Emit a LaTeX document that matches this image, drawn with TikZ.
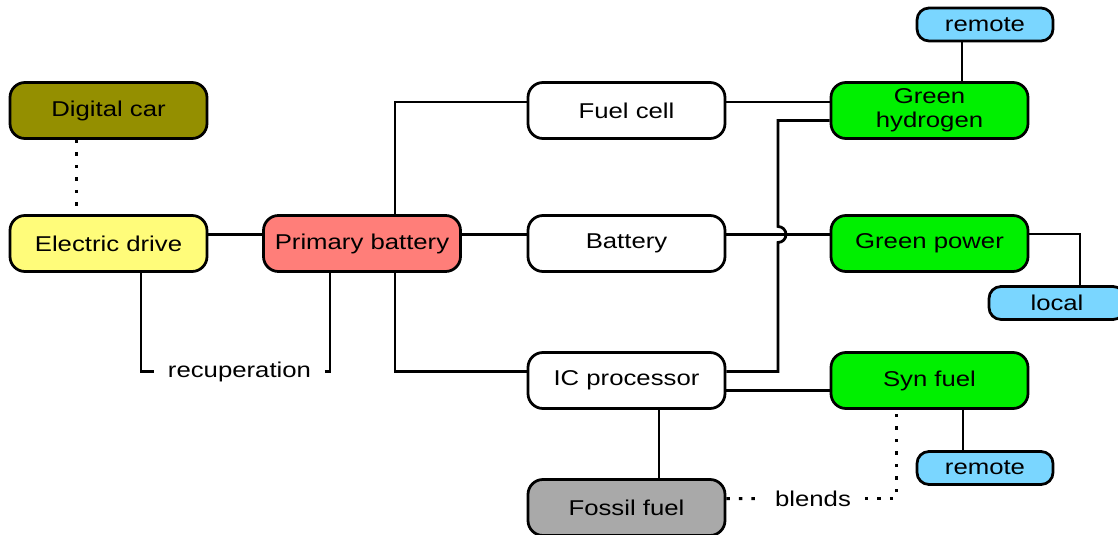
\documentclass[tikz,border=0pt]{standalone}
\usepackage{fontspec}
\setmainfont{Liberation Sans}[FakeStretch=1.2]

\definecolor{olivebox}{RGB}{148,143,0}
\definecolor{driveyellow}{RGB}{255,252,122}
\definecolor{batsalmon}{RGB}{255,126,121}
\definecolor{greenbox}{RGB}{0,240,0}
\definecolor{fossilgrey}{RGB}{169,169,169}
\definecolor{tagblue}{RGB}{122,214,255}

\begin{document}
\begin{tikzpicture}[
			x=0.2mm,y=-0.2mm,
			font=\fontsize{12.2}{13.5}\selectfont,
			line width=0.55mm,
			block/.style={rectangle,draw,rounded corners=3mm,minimum width=39.4mm,
				minimum height=11.2mm,inner sep=0pt,align=center},
			tagbox/.style={rectangle,draw,rounded corners=2.4mm,minimum width=27.2mm,
				minimum height=6.6mm,inner sep=0pt,fill=tagblue},
			edgetext/.style={fill=white,inner xsep=2.5mm,inner ysep=1pt},
			link/.style={draw,line width=0.55mm},
			dotlink/.style={draw,line width=0.6mm,dash pattern=on 0.7mm off 1.8mm},
			thinlink/.style={draw,line width=0.22mm},
			]
			
			\useasboundingbox (0,0) rectangle (1118,535);
			
			% Vehicle side
			\node[block,fill=olivebox] (digital) at (108.5,110.5) {Digital car};
			\node[block,fill=driveyellow] (edrive) at (108.5,243.5) {Electric drive};
			\node[block,fill=batsalmon] (pbat) at (362,243.5) {Primary battery};
			
			% Converters
			\node[block] (fuel) at (626.5,110.5) {Fuel cell};
			\node[block] (batt) at (626.5,243.5) {Battery};
			\node[block] (ic)   at (626.5,380.5) {IC processor};
			\node[block,fill=fossilgrey] (fossil) at (626.5,507.5) {Fossil fuel};
			
			% Energy sources
			\node[block,fill=greenbox] (gh)  at (929.5,110.5) {Green\\hydrogen};
			\node[block,fill=greenbox] (gp)  at (929.5,243.5) {Green power};
			\node[block,fill=greenbox] (syn) at (929.5,380.5) {Syn fuel};
			
			% Origin tags
			\node[tagbox] (remotetop) at (985,24.5) {remote};
			\node[tagbox] (local)     at (1057,303) {local};
			\node[tagbox] (remotebot) at (985,468) {remote};
			
			% Texts on connectors
			\node[edgetext] (recup)  at (239.5,371.5) {recuperation};
			\node[edgetext] (blends) at (813,498.5) {blends};
			\coordinate (hop) at (778,234.5);
			
			% Connections
			\draw[dotlink] ([xshift=-6.5mm]digital.south) -- ([xshift=-6.5mm]edrive.north);
			\draw[link] ([yshift=1.8mm]edrive.east) -- ([yshift=1.8mm]pbat.west);
			\draw[link] ([xshift=6.5mm]edrive.south) |- (recup.west);
			\draw[link] (recup.east) -| ([xshift=-6.4mm]pbat.south);
			
			\draw[link] ([xshift=6.6mm]pbat.north) |- ([yshift=1.7mm]fuel.west);
			\draw[link] ([yshift=1.8mm]pbat.east) -- ([yshift=1.8mm]batt.west);
			\draw[link] ([xshift=6.6mm]pbat.south) |- ([yshift=1.8mm]ic.west);
			
			\draw[link] ([yshift=1.7mm]fuel.east) -- ([yshift=1.7mm]gh.west);
			\draw[link] ([yshift=1.8mm]batt.east) -- ([yshift=1.8mm]gp.west);
			\draw[link] ([yshift=1.8mm]ic.east) -| ([yshift=-1.6mm]hop)
				arc[start angle=-90,end angle=90,radius=1.6mm] |- ([yshift=-2mm]gh.west);
			\draw[link] ([yshift=-2mm]ic.east) -- ([yshift=-2mm]syn.west);
			\draw[link] ([xshift=6.5mm]ic.south) -- ([xshift=6.5mm]fossil.north);
			
			\draw[dotlink] ([yshift=1.8mm]fossil.east) -- (blends.west);
			\draw[dotlink] (blends.east) -| ([xshift=-6.7mm]syn.south);
			
			\draw[thinlink] ([xshift=6.5mm]gh.north) -- ([xshift=6.5mm]gh.north |- remotetop.south);
			\draw[thinlink] ([yshift=1.9mm]gp.east) -| ([xshift=4.6mm]local.north);
			\draw[thinlink] ([xshift=6.7mm]syn.south) -- ([xshift=6.7mm]syn.south |- remotebot.north);
			
		\end{tikzpicture}
\end{document}
